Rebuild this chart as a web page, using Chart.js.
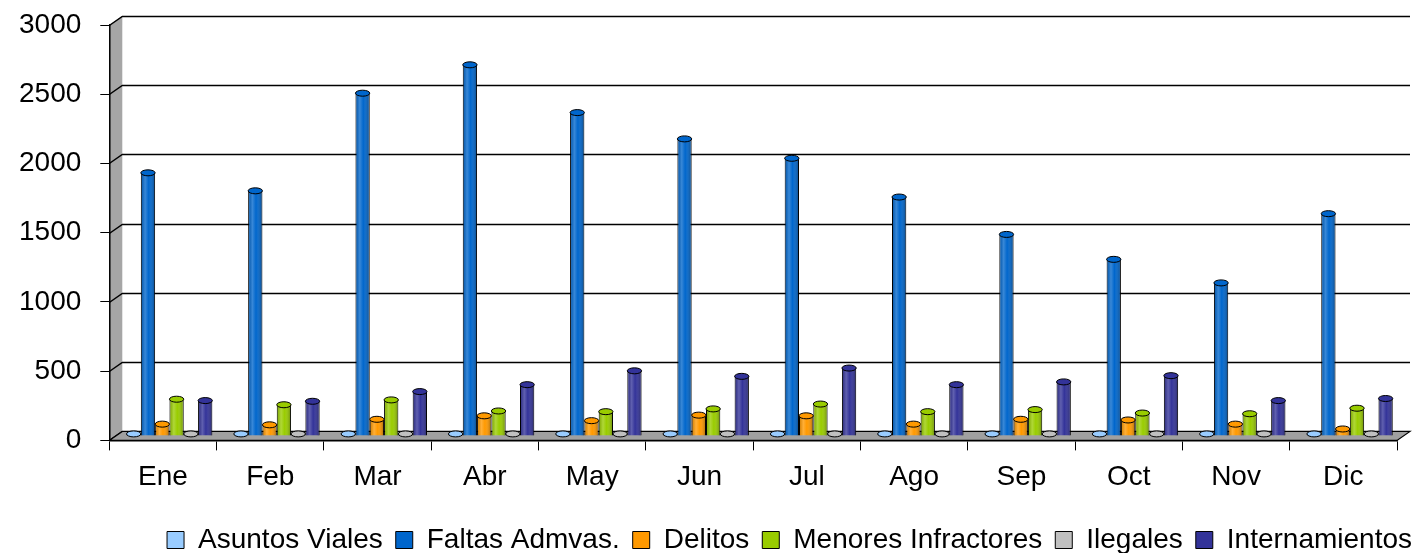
<!DOCTYPE html>
<html>
<head>
<meta charset="utf-8">
<script src="https://cdn.jsdelivr.net/npm/chart.js@4.4.1/dist/chart.umd.min.js"></script>
<style>
  html, body { margin: 0; padding: 0; background: #ffffff; }
  #wrap { width: 1416px; height: 553px; position: relative; }
</style>
</head>
<body>
<div id="wrap"><canvas id="grafica"></canvas></div>
<script>
// ==========================================
// DATOS
// ==========================================
const meses = ['Ene', 'Feb', 'Mar', 'Abr', 'May', 'Jun', 'Jul', 'Ago', 'Sep', 'Oct', 'Nov', 'Dic'];

const asuntosViales      = [0, 0, 0, 0, 0, 0, 0, 0, 0, 0, 0, 0];
const faltasAdmvas       = [1900, 1770, 2475, 2680, 2335, 2145, 2005, 1725, 1455, 1275, 1105, 1605];
const delitos            = [85, 80, 120, 145, 110, 150, 145, 85, 120, 115, 85, 50];
const menoresInfractores = [265, 225, 260, 180, 175, 195, 230, 175, 190, 165, 160, 200];
const ilegales           = [0, 0, 0, 0, 0, 0, 0, 0, 0, 0, 0, 0];
const internamientos     = [255, 250, 320, 370, 470, 430, 490, 370, 390, 435, 255, 270];

const yTicks = [0, 500, 1000, 1500, 2000, 2500, 3000];

// profundidad del efecto 3D (px)
const DX = 13;
const DY = 9;

// desplazamiento de la leyenda (px)
const LEG_DX = 28;
const LEG_DY = 9;

// ==========================================
// PLUGIN: paredes, suelo y cilindros
// ==========================================
const marco3d = {
  id: 'marco3d',
  afterLayout(chart) {
    const lg = chart.legend;
    if (!lg) return;
    lg.left += LEG_DX;
    lg.right += LEG_DX;
    lg.top += LEG_DY;
    lg.bottom += LEG_DY;
  },
  beforeDatasetsDraw(chart) {
    const ctx = chart.ctx;
    const { left, right, top, bottom } = chart.chartArea;
    const y = chart.scales.y;

    ctx.save();
    // pared izquierda
    ctx.fillStyle = '#a6a6a6';
    ctx.beginPath();
    ctx.moveTo(left, top);
    ctx.lineTo(left + DX, top - DY);
    ctx.lineTo(left + DX, bottom - DY);
    ctx.lineTo(left, bottom);
    ctx.closePath();
    ctx.fill();

    // lineas de division en la pared del fondo
    ctx.strokeStyle = '#000000';
    ctx.lineWidth = 1.5;
    yTicks.forEach(v => {
      const py = Math.round(y.getPixelForValue(v)) + 0.5;
      ctx.beginPath();
      ctx.moveTo(left, py);
      ctx.lineTo(left + DX, py - DY);
      if (v > 0) ctx.lineTo(right + DX, py - DY);
      ctx.stroke();
    });

    // suelo
    ctx.fillStyle = '#a0a0a0';
    ctx.beginPath();
    ctx.moveTo(left, bottom);
    ctx.lineTo(right, bottom);
    ctx.lineTo(right + DX, bottom - DY);
    ctx.lineTo(left + DX, bottom - DY);
    ctx.closePath();
    ctx.fill();
    ctx.lineWidth = 1.2;
    ctx.stroke();

    // eje vertical frontal
    ctx.lineWidth = 1.5;
    ctx.beginPath();
    ctx.moveTo(left + 0.5, top);
    ctx.lineTo(left + 0.5, bottom);
    ctx.stroke();
    ctx.restore();

    // las barras se dibujan a media profundidad
    ctx.save();
    ctx.translate(DX / 2, -DY / 2);
  },
  afterDatasetsDraw(chart) {
    const ctx = chart.ctx;
    chart.data.datasets.forEach((ds, i) => {
      const meta = chart.getDatasetMeta(i);
      meta.data.forEach(bar => {
        const w = bar.width;
        const x0 = bar.x - w / 2;
        const h = bar.base - bar.y;
        // sombreado cilindrico
        if (h > 2) {
          const g = ctx.createLinearGradient(x0, 0, x0 + w, 0);
          g.addColorStop(0, 'rgba(0,0,0,0.18)');
          g.addColorStop(0.3, 'rgba(255,255,255,0.22)');
          g.addColorStop(0.55, 'rgba(255,255,255,0)');
          g.addColorStop(1, 'rgba(0,0,0,0.35)');
          ctx.fillStyle = g;
          ctx.fillRect(x0 + 1, bar.y, w - 2, h);
        }
        // tapa superior
        ctx.beginPath();
        ctx.ellipse(bar.x, bar.y, w / 2, 3, 0, 0, Math.PI * 2);
        ctx.fillStyle = ds.backgroundColor;
        ctx.fill();
        ctx.lineWidth = 1;
        ctx.strokeStyle = '#000000';
        ctx.stroke();
      });
    });
    ctx.restore();
  }
};

// ==========================================
// GRAFICA
// ==========================================
function serie(label, data, color) {
  return {
    label: label,
    data: data,
    backgroundColor: color,
    borderColor: '#000000',
    borderWidth: 1,
    minBarLength: 2
  };
}

const fuente = "'Liberation Sans', Arial, sans-serif";

new Chart(document.getElementById('grafica'), {
  type: 'bar',
  data: {
    labels: meses,
    datasets: [
      serie('Asuntos Viales', asuntosViales, '#99ccff'),
      serie('Faltas Admvas.', faltasAdmvas, '#0066cc'),
      serie('Delitos', delitos, '#ff9900'),
      serie('Menores Infractores', menoresInfractores, '#99cc00'),
      serie('Ilegales', ilegales, '#c0c0c0'),
      serie('Internamientos', internamientos, '#333399')
    ]
  },
  options: {
    responsive: true,
    maintainAspectRatio: false,
    animation: false,
    layout: { padding: { left: 0, right: 19, top: 2, bottom: -2 } },
    datasets: {
      bar: { categoryPercentage: 0.8, barPercentage: 1.0 }
    },
    plugins: {
      legend: {
        position: 'bottom',
        align: 'end',
        labels: {
          boxWidth: 17,
          boxHeight: 17,
          padding: 13,
          color: '#000000',
          font: { family: fuente, size: 28 }
        }
      },
      tooltip: { enabled: false }
    },
    scales: {
      x: {
        offset: true,
        grid: {
          display: true,
          drawOnChartArea: false,
          offset: true,
          color: '#000000',
          lineWidth: 1,
          tickLength: 10
        },
        border: { display: true, color: '#000000', width: 1.5 },
        ticks: {
          color: '#000000',
          padding: 10,
          font: { family: fuente, size: 28 }
        }
      },
      y: {
        min: 0,
        max: 3000,
        afterBuildTicks: axis => { axis.ticks = yTicks.map(v => ({ value: v })); },
        afterFit: axis => { axis.paddingTop = 25; },
        grid: {
          display: true,
          drawOnChartArea: false,
          color: '#000000',
          lineWidth: 1,
          tickLength: 9
        },
        border: { display: true, color: '#000000', width: 1.5 },
        ticks: {
          color: '#000000',
          padding: 19,
          callback: value => String(value),
          font: { family: fuente, size: 28 }
        }
      }
    }
  },
  plugins: [marco3d]
});
</script>
</body>
</html>
